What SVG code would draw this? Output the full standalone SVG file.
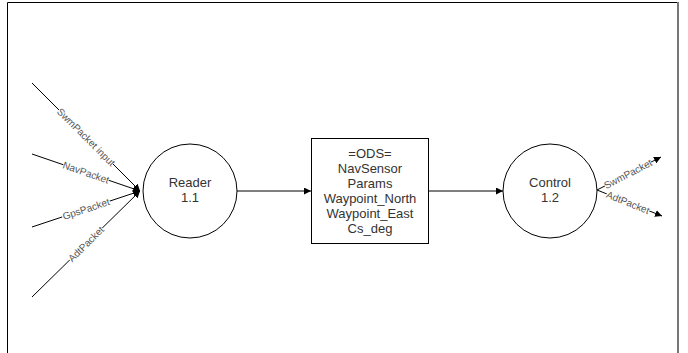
<svg xmlns="http://www.w3.org/2000/svg" width="688" height="353" viewBox="0 0 688 353">
  <defs>
    <marker id="arrow" viewBox="0 0 10 10" refX="10" refY="5" markerWidth="7" markerHeight="7" markerUnits="userSpaceOnUse" orient="auto">
      <path d="M0,0 L10,5 L0,10 z" fill="#000"/>
    </marker>
    <style>
      .node { fill: #fff; stroke: #000; stroke-width: 1; }
      .name { font-family: "Liberation Sans", Arial, sans-serif; font-size: 13px; fill: #333; text-anchor: middle; }
      .flow { fill: none; stroke: #000; stroke-width: 1; marker-end: url(#arrow); }
      .tag { font-family: "Liberation Sans", Arial, sans-serif; font-size: 10px; fill: #555; text-anchor: middle; dominant-baseline: central; }
      .tagbg { fill: #fff; }
    </style>
  </defs>

  <rect width="688" height="353" fill="#fff"/>
  <!-- page frame, open at the bottom -->
  <path d="M7.5,360 V2.5 H677" fill="none" stroke="#000" stroke-width="1"/>
  <path d="M678,2 V360" fill="none" stroke="#777" stroke-width="2"/>

  <g id="connectors">
    <line class="flow" x1="32" y1="83" x2="140" y2="191"/>
    <line class="flow" x1="32" y1="154" x2="140" y2="191"/>
    <line class="flow" x1="32" y1="227" x2="140" y2="191"/>
    <line class="flow" x1="32" y1="297" x2="140" y2="191"/>
    <line class="flow" x1="237" y1="191" x2="311" y2="191"/>
    <line class="flow" x1="429" y1="191" x2="503" y2="191"/>
    <line class="flow" x1="597" y1="190" x2="661" y2="157"/>
    <line class="flow" x1="597" y1="190" x2="662" y2="216"/>

    <g transform="translate(86,137) rotate(45)">
      <rect class="tagbg" x="-38" y="-5" width="76" height="10"/>
      <text class="tag">SwmPacket input</text>
    </g>
    <g transform="translate(86,172.5) rotate(18.9)">
      <rect class="tagbg" x="-24" y="-5" width="48" height="10"/>
      <text class="tag">NavPacket</text>
    </g>
    <g transform="translate(86,209) rotate(-18.4)">
      <rect class="tagbg" x="-25" y="-5" width="50" height="10"/>
      <text class="tag">GpsPacket</text>
    </g>
    <g transform="translate(86,244) rotate(-44.5)">
      <rect class="tagbg" x="-23" y="-5" width="46" height="10"/>
      <text class="tag">AdtPacket</text>
    </g>
    <g transform="translate(628,174) rotate(-27.3)">
      <rect class="tagbg" x="-26" y="-5" width="52" height="10"/>
      <text class="tag">SwmPacket</text>
    </g>
    <g transform="translate(628,202.5) rotate(21.8)">
      <rect class="tagbg" x="-23" y="-5" width="46" height="10"/>
      <text class="tag">AdtPacket</text>
    </g>
  </g>

  <g id="reader">
    <circle class="node" cx="190" cy="191" r="47"/>
    <text class="name" x="190" y="187">Reader</text>
    <text class="name" x="190" y="202">1.1</text>
  </g>

  <g id="ods">
    <rect class="node" x="311.5" y="138.5" width="117" height="105"/>
    <text class="name" x="370" y="158">=ODS=</text>
    <text class="name" x="370" y="173">NavSensor</text>
    <text class="name" x="370" y="188">Params</text>
    <text class="name" x="370" y="203">Waypoint_North</text>
    <text class="name" x="370" y="218">Waypoint_East</text>
    <text class="name" x="370" y="233">Cs_deg</text>
  </g>

  <g id="control">
    <circle class="node" cx="550" cy="191" r="47"/>
    <text class="name" x="550" y="187">Control</text>
    <text class="name" x="550" y="202">1.2</text>
  </g>
</svg>
